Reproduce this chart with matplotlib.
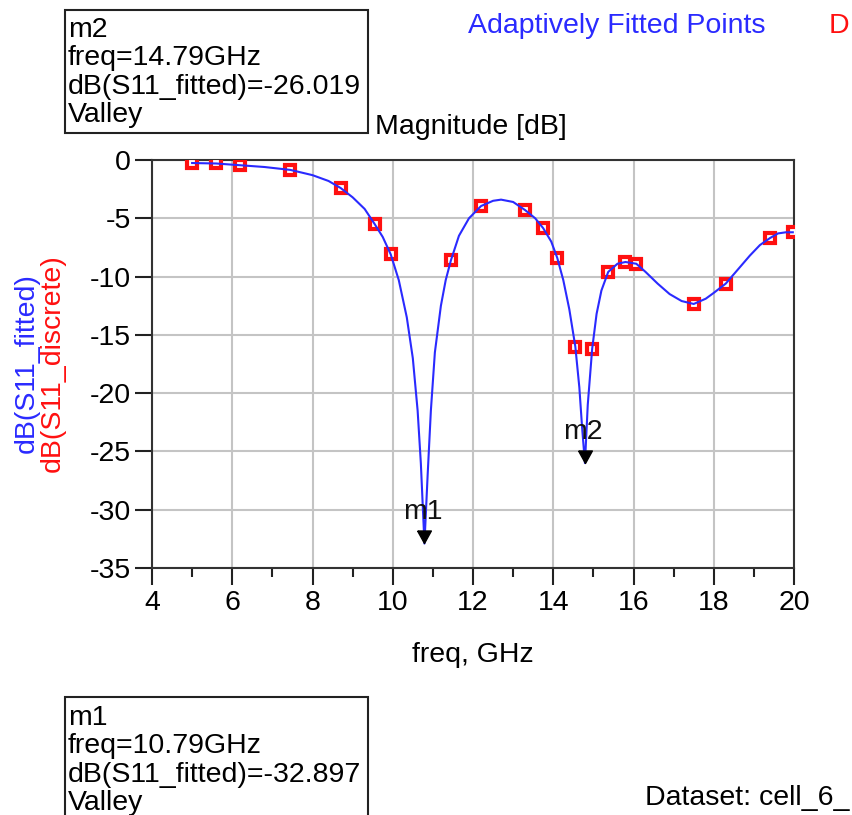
import matplotlib
matplotlib.use("Agg")
import matplotlib.pyplot as plt
from matplotlib.patches import Rectangle

# fitted curve
freq_fit = [5.0, 5.6, 6.2, 6.8, 7.45, 8.0, 8.4, 8.7, 9.0, 9.3, 9.55, 9.75, 9.95,
            10.15, 10.35, 10.5, 10.62, 10.7, 10.79, 10.87, 10.95, 11.05, 11.2,
            11.32, 11.45, 11.65, 11.9, 12.2, 12.5, 12.7, 13.0, 13.3, 13.55, 13.75,
            13.95, 14.1, 14.25, 14.4, 14.55, 14.65, 14.72, 14.79, 14.86, 14.97,
            15.08, 15.2, 15.37, 15.6, 15.8, 16.07, 16.3, 16.6, 16.9, 17.2, 17.5,
            17.8, 18.0, 18.3, 18.6, 18.9, 19.15, 19.4, 19.6, 19.8, 19.97]
db_fit = [-0.26, -0.3, -0.45, -0.6, -0.85, -1.3, -1.8, -2.4, -3.2, -4.2, -5.5,
          -6.6, -8.1, -10.3, -13.5, -17.0, -21.5, -26.0, -32.9, -27.0, -21.5,
          -16.5, -12.5, -10.3, -8.6, -6.5, -5.0, -3.95, -3.5, -3.4, -3.6, -4.3,
          -5.0, -5.85, -7.0, -8.4, -10.3, -12.8, -16.0, -19.5, -23.0, -26.0,
          -21.0, -16.2, -13.2, -11.2, -9.6, -8.9, -8.75, -8.9, -9.6, -10.6,
          -11.5, -12.1, -12.35, -11.9, -11.4, -10.6, -9.4, -8.2, -7.3, -6.7,
          -6.3, -6.2, -6.2]

# discrete (adaptively chosen) points
freq_pts = [5.0, 5.6, 6.2, 7.45, 8.7, 9.55, 9.95, 11.45, 12.2, 13.3, 13.75,
            14.1, 14.55, 14.97, 15.37, 15.8, 16.07, 17.5, 18.3, 19.4, 19.97]
db_pts = [-0.26, -0.3, -0.45, -0.85, -2.4, -5.5, -8.1, -8.6, -3.95, -4.3,
          -5.85, -8.4, -16.0, -16.2, -9.6, -8.75, -8.9, -12.35, -10.6, -6.7, -6.2]

# markers
mk_names = ["m1", "m2"]
mk_freq = [10.79, 14.79]
mk_db = [-32.897, -26.019]

W, H = 852, 815
FS = 20.5
plt.rcParams['font.family'] = ['Liberation Sans', 'DejaVu Sans']
plt.rcParams['axes.unicode_minus'] = False

fig = plt.figure(figsize=(W / 100, H / 100), dpi=100)


def px(x, y):
    return x / W, 1 - y / H


l, t = px(152, 160)
r, b = px(794, 568)
ax = fig.add_axes([l, b, r - l, t - b])

ax.plot(freq_pts, db_pts, linestyle='none', marker='s', ms=7.5, mfc='white',
        mec='#ff1010', mew=3, zorder=3)
ax.plot(freq_fit, db_fit, color='#2a2aff', lw=1.5, zorder=4)

# marker triangles with the tip on the point
tri = [(-0.55, 1.0), (0.55, 1.0), (0.0, 0.0), (-0.55, 1.0)]
ax.plot(mk_freq, mk_db, linestyle='none', marker=tri, ms=18, color='black', zorder=5)
for name, f, d in zip(mk_names, mk_freq, mk_db):
    ax.annotate(name, (f, d), xytext=(-2, 31), textcoords='offset pixels',
                ha='center', va='center', fontsize=FS, color='#111111', zorder=6)

ax.set_xlim(4, 20)
ax.set_ylim(-35, 0)
ax.set_xticks(range(4, 21, 2))
ax.set_xticks(range(5, 20, 2), minor=True)
ax.set_yticks(range(-35, 1, 5))
ax.grid(True, which='major', color='#c4c4c4', lw=1.5)
ax.set_axisbelow(True)
for s in ax.spines.values():
    s.set_color('#333333')
    s.set_linewidth(1.5)
ax.tick_params(axis='both', which='major', direction='out', length=12, width=1.5,
               color='#222222', labelsize=FS, pad=3)
ax.tick_params(axis='x', which='major', pad=4)
ax.tick_params(axis='x', which='minor', direction='out', length=6.5, width=1.5,
               color='#222222')

# axis labels
fig.text(*px(473, 655), "freq, GHz", ha='center', va='center', fontsize=FS)
fig.text(*px(27, 363), "dB(S11_fitted)", rotation=90, ha='center', va='center',
         fontsize=FS, color='#2a2aff')
fig.text(*px(53, 363), "dB(S11_discrete)", rotation=90, ha='center', va='center',
         fontsize=FS, color='#ff1010')
fig.text(*px(375, 134), "Magnitude [dB]", ha='left', va='baseline', fontsize=FS)

# legend-like titles at the top (the reference is cut at the right edge)
fig.text(*px(468, 33), "Adaptively Fitted Points", ha='left', va='baseline',
         fontsize=FS, color='#2a2aff')
fig.text(*px(829, 33), "D", ha='left', va='baseline', fontsize=FS, color='#ff1010')
fig.text(*px(645, 805), "Dataset: cell_6_", ha='left', va='baseline', fontsize=FS)

# marker readout boxes
boxes = [
    (65, 10, 133, ["m2", "freq=14.79GHz", "dB(S11_fitted)=-26.019", "Valley"], 37),
    (65, 697, 840, ["m1", "freq=10.79GHz", "dB(S11_fitted)=-32.897", "Valley"], 725),
]
for x0, y0, y1, lines, base in boxes:
    bx, by = px(x0, y1)
    bx2, by2 = px(368, y0)
    fig.patches.append(Rectangle((bx, by), bx2 - bx, by2 - by, transform=fig.transFigure,
                                 fill=False, edgecolor='#222222', lw=1.5))
    for i, txt in enumerate(lines):
        fig.text(*px(x0 + 3, base + i * 28.4), txt, ha='left', va='baseline', fontsize=FS)

fig.savefig("out.png", dpi=100)
